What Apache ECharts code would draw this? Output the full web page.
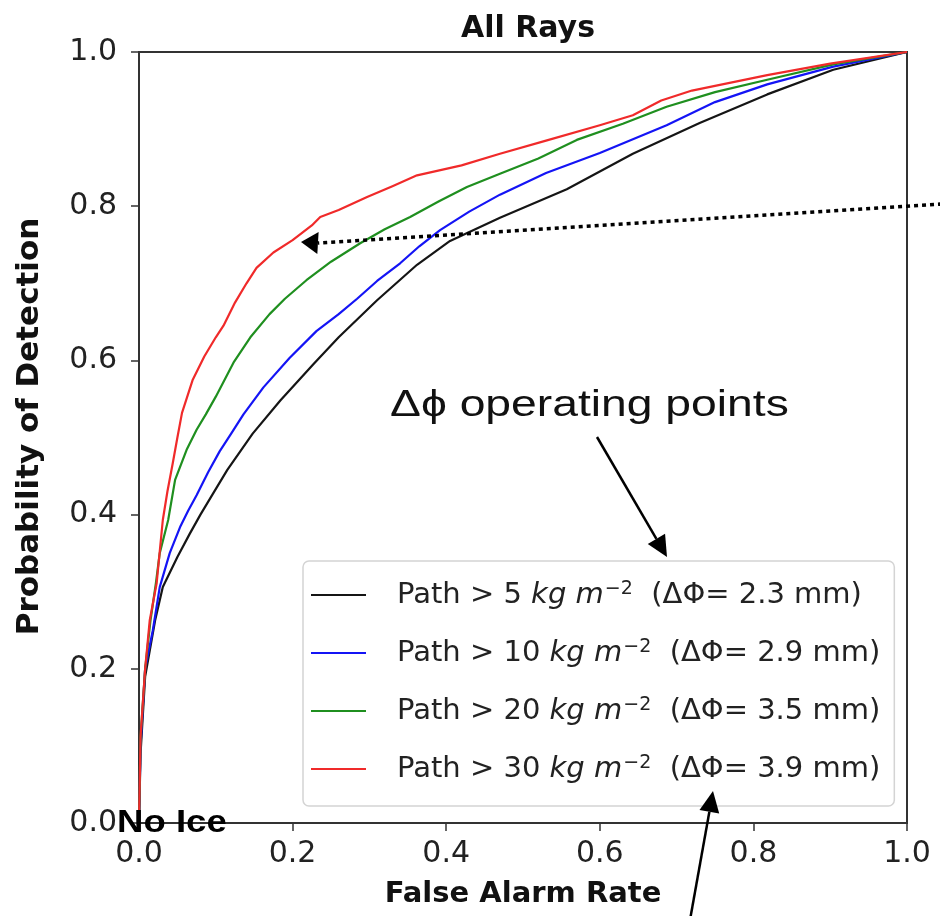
<!DOCTYPE html>
<html>
<head>
<meta charset="utf-8">
<script src="https://cdn.jsdelivr.net/npm/echarts@6/dist/echarts.min.js"></script>
<style>html,body{margin:0;padding:0;background:#fff;}#chart{width:940px;height:916px;}</style>
</head>
<body>
<div id="chart"></div>
<script>
// ---- data ----
const titleText = 'All Rays';
const xName = 'False Alarm Rate';
const yName = 'Probability of Detection';
const xTicks = [0, 0.2, 0.4, 0.6, 0.8, 1.0];
const yTicks = [0, 0.2, 0.4, 0.6, 0.8, 1.0];

const thresholds = [5, 10, 20, 30];           // Path > N kg m^-2
const deltaPhi = ['2.3', '2.9', '3.5', '3.9']; // mm

const farK = [0, 0.002, 0.008, 0.021, 0.031, 0.050, 0.066, 0.080, 0.095, 0.115, 0.148, 0.184, 0.227, 0.260, 0.310, 0.362, 0.405, 0.470, 0.557, 0.643, 0.730, 0.818, 0.904, 1.0];
const podK = [0, 0.090, 0.190, 0.263, 0.306, 0.345, 0.375, 0.400, 0.425, 0.458, 0.505, 0.548, 0.595, 0.630, 0.678, 0.724, 0.755, 0.785, 0.822, 0.868, 0.908, 0.945, 0.977, 1.0];

const farB = [0, 0.002, 0.008, 0.018, 0.027, 0.040, 0.054, 0.064, 0.075, 0.090, 0.105, 0.120, 0.136, 0.162, 0.196, 0.231, 0.260, 0.284, 0.310, 0.340, 0.365, 0.392, 0.430, 0.470, 0.530, 0.600, 0.687, 0.750, 0.818, 0.904, 1.0];
const podB = [0, 0.100, 0.200, 0.250, 0.306, 0.350, 0.385, 0.405, 0.425, 0.455, 0.482, 0.505, 0.530, 0.565, 0.603, 0.638, 0.660, 0.680, 0.703, 0.726, 0.748, 0.769, 0.793, 0.815, 0.843, 0.869, 0.905, 0.935, 0.958, 0.981, 1.0];

const farG = [0, 0.002, 0.008, 0.015, 0.022, 0.027, 0.038, 0.047, 0.062, 0.075, 0.087, 0.100, 0.123, 0.145, 0.170, 0.190, 0.218, 0.250, 0.288, 0.320, 0.353, 0.390, 0.427, 0.470, 0.520, 0.570, 0.630, 0.687, 0.750, 0.818, 0.904, 1.0];
const podG = [0, 0.110, 0.200, 0.263, 0.311, 0.350, 0.393, 0.445, 0.484, 0.510, 0.530, 0.553, 0.597, 0.630, 0.660, 0.680, 0.704, 0.728, 0.752, 0.770, 0.786, 0.806, 0.825, 0.842, 0.862, 0.886, 0.907, 0.929, 0.948, 0.964, 0.984, 1.0];

const farR = [0, 0.002, 0.008, 0.014, 0.023, 0.031, 0.037, 0.044, 0.050, 0.056, 0.070, 0.085, 0.100, 0.110, 0.125, 0.140, 0.153, 0.175, 0.200, 0.225, 0.236, 0.260, 0.297, 0.330, 0.362, 0.420, 0.470, 0.530, 0.600, 0.643, 0.680, 0.720, 0.818, 0.900, 1.0];
const podR = [0, 0.112, 0.200, 0.263, 0.311, 0.393, 0.430, 0.467, 0.500, 0.532, 0.575, 0.605, 0.630, 0.645, 0.675, 0.700, 0.720, 0.740, 0.756, 0.775, 0.786, 0.795, 0.812, 0.826, 0.840, 0.853, 0.868, 0.885, 0.905, 0.918, 0.937, 0.950, 0.970, 0.985, 1.0];

const seriesFar = [farK, farB, farG, farR];
const seriesPod = [podK, podB, podG, podR];
const seriesColors = ['#151515', '#1414f5', '#1f8f1f', '#f02a2a'];
const seriesNames = thresholds.map(t => 'Path > ' + t);

const zip = (a, b) => a.map((v, i) => [v, b[i]]);

const chart = echarts.init(document.getElementById('chart'), null, {renderer: 'canvas'});

const TXT = '#222';
const FONT = 'DejaVu Sans';

const series = seriesNames.map((name, i) => ({
  name: name,
  type: 'line',
  data: zip(seriesFar[i], seriesPod[i]),
  showSymbol: false,
  symbol: 'none',
  smooth: false,
  lineStyle: {color: seriesColors[i], width: 2.2, join: 'round'},
  itemStyle: {color: seriesColors[i]},
  z: 2 + i
}));

function arrowHead(tip, dir, len, half) {
  const L = Math.hypot(dir[0], dir[1]);
  const ux = dir[0] / L, uy = dir[1] / L;
  const bx = tip[0] - ux * len, by = tip[1] - uy * len;
  const px = -uy * half, py = ux * half;
  return {pts: [[tip[0], tip[1]], [bx + px, by + py], [bx - px, by - py]], base: [bx, by]};
}

const a1 = arrowHead([667, 557], [70, 120], 21, 10);
const a2 = arrowHead([713, 791], [23, -131], 21, 10);
const a3 = arrowHead([301, 242], [-1, -0.06], 17, 11);

const option = {
  backgroundColor: '#fff',
  animation: false,
  title: {
    text: titleText,
    left: 523,
    textAlign: 'center',
    top: 9,
    textStyle: {fontFamily: FONT, fontWeight: 'bold', fontSize: 30, color: '#111'}
  },
  grid: {
    left: 139, right: 33, top: 52, bottom: 93,
    show: true, borderColor: '#333', borderWidth: 2, backgroundColor: 'transparent'
  },
  legend: {
    orient: 'vertical',
    left: 303, top: 561,
    icon: 'rect',
    itemWidth: 55, itemHeight: 2,
    itemGap: 28,
    padding: [19, 14, 22, 8],
    borderColor: '#d4d4d4', borderWidth: 1.5, borderRadius: 6,
    backgroundColor: '#fff',
    selectedMode: false,
    data: seriesNames,
    formatter: function (name) {
      const i = seriesNames.indexOf(name);
      return '{n|Path > ' + thresholds[i] + ' }{i|kg m}{s|\u22122}{n|  (\u0394\u03a6= ' + deltaPhi[i] + ' mm)}';
    },
    textStyle: {
      fontFamily: FONT, fontSize: 29, color: TXT, lineHeight: 30,
      padding: [0, 0, 0, 26],
      rich: {
        n: {fontFamily: FONT, fontSize: 29, color: TXT, lineHeight: 30},
        i: {fontFamily: FONT, fontSize: 29, color: TXT, fontStyle: 'italic', lineHeight: 30},
        s: {fontFamily: FONT, fontSize: 19, color: TXT, lineHeight: 30, verticalAlign: 'top', padding: [0, 0, 0, 1]}
      }
    }
  },
  xAxis: {
    type: 'value', min: 0, max: 1, interval: 0.2,
    name: xName, nameLocation: 'middle', nameGap: 57,
    nameTextStyle: {fontFamily: FONT, fontWeight: 'bold', fontSize: 29, color: '#111'},
    axisLine: {show: true, lineStyle: {color: '#333', width: 2}},
    axisTick: {show: true, length: 8, lineStyle: {color: '#333', width: 1.5}},
    axisLabel: {margin: 16, fontFamily: FONT, fontSize: 30, color: TXT,
      formatter: v => xTicks.indexOf(v) >= 0 ? v.toFixed(1) : ''},
    splitLine: {show: false}
  },
  yAxis: {
    type: 'value', min: 0, max: 1, interval: 0.2,
    name: yName, nameLocation: 'middle', nameGap: 94,
    nameTextStyle: {fontFamily: FONT, fontWeight: 'bold', fontSize: 31, color: '#111', padding: [0, 0, 0, 22]},
    axisLine: {show: true, lineStyle: {color: '#333', width: 2}},
    axisTick: {show: true, length: 8, lineStyle: {color: '#333', width: 1.5}},
    axisLabel: {margin: 22, fontFamily: FONT, fontSize: 30, color: TXT,
      formatter: v => yTicks.indexOf(v) >= 0 ? v.toFixed(1) : ''},
    splitLine: {show: false}
  },
  series: series,
  graphic: [
    {type: 'text', x: 390, y: 406, scaleX: 1.25, z: 100,
      style: {text: '\u0394\u03d5 operating points', fontFamily: 'Liberation Sans', fontSize: 37, fill: '#111', verticalAlign: 'middle', align: 'left'}},
    {type: 'text', x: 117, y: 823, scaleX: 1.18, z: 100,
      style: {text: 'No Ice', fontFamily: 'Liberation Sans', fontWeight: 'bold', fontSize: 31, fill: '#000', verticalAlign: 'middle', align: 'left'}},
    // arrow to legend
    {type: 'line', z: 100, shape: {x1: 597, y1: 437, x2: a1.base[0], y2: a1.base[1]}, style: {stroke: '#000', lineWidth: 2.5}},
    {type: 'polygon', z: 100, shape: {points: a1.pts}, style: {fill: '#000'}},
    // arrow from bottom
    {type: 'line', z: 100, shape: {x1: 690, y1: 920, x2: a2.base[0], y2: a2.base[1]}, style: {stroke: '#000', lineWidth: 2.5}},
    {type: 'polygon', z: 100, shape: {points: a2.pts}, style: {fill: '#000'}},
    // dotted arrow
    {type: 'line', z: 100, shape: {x1: 942, y1: 204, x2: a3.base[0], y2: a3.base[1]}, style: {stroke: '#000', lineWidth: 3.5, lineDash: [4, 4]}},
    {type: 'polygon', z: 100, shape: {points: a3.pts}, style: {fill: '#000'}}
  ]
};

chart.setOption(option);
</script>
</body>
</html>
